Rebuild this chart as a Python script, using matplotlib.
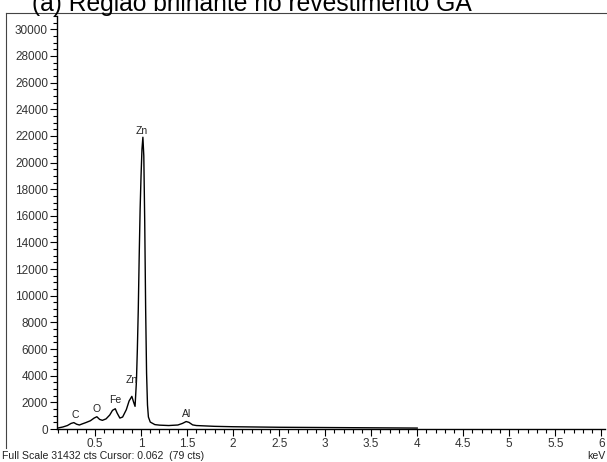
import matplotlib.pyplot as plt
from matplotlib.ticker import MultipleLocator
from matplotlib.lines import Line2D

plt.rcParams['font.family'] = ['Liberation Sans', 'DejaVu Sans']

# EDS spectrum (energy in keV, counts)
energy = [0.10, 0.15, 0.20, 0.24, 0.27, 0.30, 0.33, 0.36, 0.40, 0.45, 0.49,
          0.52, 0.55, 0.58, 0.62, 0.66, 0.69, 0.72, 0.74, 0.77, 0.80, 0.84,
          0.87, 0.90, 0.92, 0.935, 0.95, 0.96, 0.97, 0.98, 0.99, 1.00, 1.01,
          1.02, 1.03, 1.04, 1.05, 1.06, 1.07, 1.08, 1.10, 1.15, 1.20, 1.30,
          1.40, 1.45, 1.49, 1.52, 1.56, 1.60, 1.70, 1.80, 2.00, 2.25, 2.50,
          2.75, 3.00, 3.25, 3.50, 3.75, 4.00]
counts = [80, 150, 260, 420, 480, 360, 300, 380, 480, 620, 820,
          920, 720, 650, 760, 1050, 1400, 1520, 1200, 820, 900, 1450,
          2100, 2450, 2000, 1700, 3600, 6000, 9000, 13000, 16500, 19000, 21000,
          21900, 20500, 15500, 9000, 4200, 1800, 900, 520, 330, 290, 260,
          300, 420, 560, 500, 310, 260, 230, 200, 170, 150, 130,
          120, 110, 100, 90, 80, 70]

# element labels: name, energy, label height (counts)
peak_names = ['C', 'O', 'Fe', 'Zn', 'Zn', 'Al']
peak_energy = [0.28, 0.52, 0.72, 0.90, 1.01, 1.50]
peak_label_y = [1050, 1500, 2200, 3700, 22400, 1150]

fig = plt.figure(figsize=(6.07, 4.62), dpi=100)
ax = fig.add_axes([57 / 607, 33 / 462, 548 / 607, 413 / 462])

ax.plot(energy, counts, color='black', lw=1.0)

for name, x, y in zip(peak_names, peak_energy, peak_label_y):
    ax.text(x, y, name, ha='center', va='center', fontsize=7.5, color='#222222')

ax.set_xlim(0.087, 6.04)
ax.set_ylim(0, 31000)
ax.xaxis.set_minor_locator(MultipleLocator(0.1))
ax.yaxis.set_major_locator(MultipleLocator(2000))
ax.yaxis.set_minor_locator(MultipleLocator(500))
ax.set_xticks([0.5, 1, 1.5, 2, 2.5, 3, 3.5, 4, 4.5, 5, 5.5, 6])
ax.set_xticklabels(['0.5', '1', '1.5', '2', '2.5', '3', '3.5', '4', '4.5', '5', '5.5', '6'])

ax.tick_params(axis='both', which='major', length=5, width=0.8, labelsize=8.5,
               labelcolor='#333333', direction='out', pad=1.5)
ax.tick_params(axis='both', which='minor', length=3, width=0.8, direction='out')

for side in ['top', 'right']:
    ax.spines[side].set_visible(False)
ax.spines['left'].set_linewidth(1.0)
ax.spines['bottom'].set_linewidth(1.0)

# window frame lines along top and left edges
fig.add_artist(Line2D([6 / 607, 1.0], [1 - 13 / 462, 1 - 13 / 462], color='#444444', lw=0.8))
fig.add_artist(Line2D([6 / 607, 6 / 607], [1 - 13 / 462, 1 - 448 / 462], color='#444444', lw=0.8))

fig.text(252 / 607, 1 - 11 / 462, '(a) Região brilhante no revestimento GA',
         ha='center', va='baseline', fontsize=17.7, color='black')
fig.text(2 / 607, 1 - 461 / 462, 'Full Scale 31432 cts Cursor: 0.062  (79 cts)',
         ha='left', va='bottom', fontsize=7.6, color='#222222')
fig.text(606 / 607, 1 - 461 / 462, 'keV', ha='right', va='bottom',
         fontsize=7.6, color='#222222')

fig.savefig('out.png', dpi=100)
